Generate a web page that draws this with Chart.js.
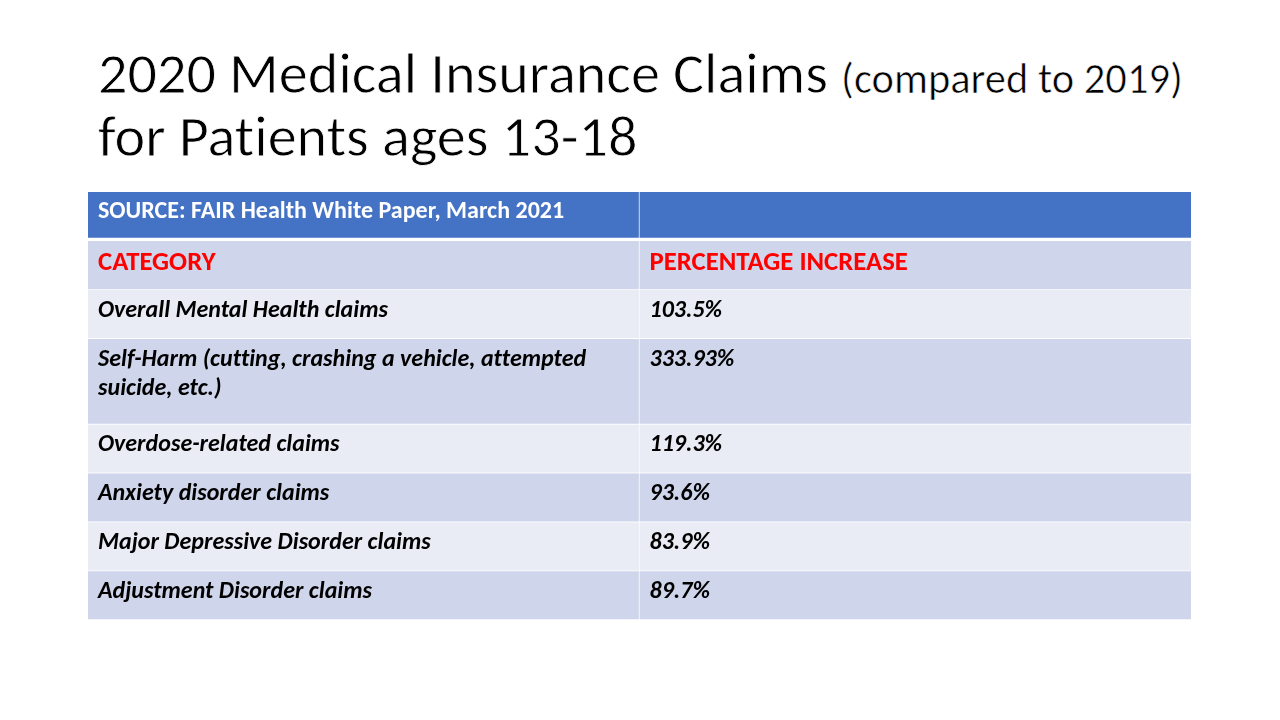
<!DOCTYPE html>
<html>
<head>
<meta charset="utf-8">
<script src="https://cdn.jsdelivr.net/npm/chart.js@4.4.1/dist/chart.umd.min.js"></script>
<style>
  html, body { margin: 0; padding: 0; background: #ffffff; }
  body { width: 1280px; height: 720px; position: relative; overflow: hidden; }
  h1 {
    position: absolute; left: 98px; top: 42px; margin: 0;
    font-family: Carlito, Calibri, Lato, sans-serif; font-weight: 400;
    font-size: 58.2px; line-height: 63px; color: #000000;
    font-variant-ligatures: none; white-space: nowrap;
  }
  h1 .main { -webkit-text-stroke: 0.8px #ffffff; }
  h1 .aside { font-size: 42.5px; line-height: 0; -webkit-text-stroke: 0.6px #ffffff; }
  #wrap { position: absolute; left: 0; top: 0; width: 1280px; height: 720px; }
</style>
</head>
<body>
<h1><span class="main">2020 Medical Insurance Claims</span> <span class="aside">(compared to 2019)</span><br><span class="main">for Patients ages 13-18</span></h1>
<div id="wrap"><canvas id="claimsTable"></canvas></div>
<script>
const sourceNote = 'SOURCE: FAIR Health White Paper, March 2021';
const columnHeaders = ['CATEGORY', 'PERCENTAGE INCREASE'];
const categories = [
    'Overall Mental Health claims',
    ['Self-Harm (cutting, crashing a vehicle, attempted', 'suicide, etc.)'],
    'Overdose-related claims',
    'Anxiety disorder claims',
    'Major Depressive Disorder claims',
    'Adjustment Disorder claims'
];
const increases = [103.5, 333.93, 119.3, 93.6, 83.9, 89.7];

document.addEventListener('DOMContentLoaded', function () {
    const fontFamily = 'Carlito, Calibri, Lato, sans-serif';
    const headerBlue = '#4472c4';
    const bandDark = '#cfd5ea';
    const bandLight = '#e9ebf5';

    // rows of the table: [left cell, right cell, kind]
    const rows = [[sourceNote, '', 'source'], [columnHeaders[0], columnHeaders[1], 'head']];
    categories.forEach((c, i) => rows.push([c, increases[i] + '%', 'body']));

    // row extents in "row units" (a wrapped label makes the row taller)
    let edge = 0;
    const extents = rows.map(r => {
        const lines = Array.isArray(r[0]) ? r[0].length : 1;
        const start = edge;
        edge += 1 + 0.75 * (lines - 1);
        return [start, edge];
    });
    const total = edge;

    const datasets = rows.map((r, i) => ({
        label: 'row' + i,
        data: [
            { x: 'left', y: extents[i] },
            { x: 'right', y: extents[i] }
        ],
        backgroundColor: i === 0 ? headerBlue : (i % 2 === 1 ? bandDark : bandLight),
        borderColor: '#ffffff',
        borderWidth: [
            { top: 0, left: 0, right: 1, bottom: i === 0 ? 3.5 : 1 },
            { top: 0, left: 0, right: 0, bottom: i === 0 ? 3.5 : 1 }
        ],
        borderSkipped: false,
        grouped: false,
        barPercentage: 1,
        categoryPercentage: 1
    }));

    // text per row kind: font, colour, baseline offset from the row top
    const styles = {
        source: { font: 'bold 24px ' + fontFamily, color: '#ffffff', dy: 26 },
        head: { font: 'bold 26.7px ' + fontFamily, color: '#ff0000', dy: 29 },
        body: { font: 'italic bold 24px ' + fontFamily, color: '#000000', dy: 27 }
    };

    const cellText = {
        id: 'cellText',
        afterDatasetsDraw(chart) {
            const ctx = chart.ctx;
            ctx.save();
            ctx.textBaseline = 'alphabetic';
            if ('letterSpacing' in ctx) ctx.letterSpacing = '0.01px';
            rows.forEach((r, i) => {
                const st = styles[r[2]];
                const meta = chart.getDatasetMeta(i);
                meta.data.forEach((bar, c) => {
                    const text = r[c];
                    if (!text) return;
                    const p = bar.getProps(['x', 'y', 'base', 'width'], true);
                    const left = p.x - p.width / 2 + 10;
                    const top = Math.min(p.y, p.base);
                    ctx.font = st.font;
                    ctx.fillStyle = st.color;
                    const lines = Array.isArray(text) ? text : [text];
                    lines.forEach((ln, k) => ctx.fillText(ln, left, top + st.dy + k * 29));
                });
            });
            ctx.restore();
        }
    };

    new Chart(document.getElementById('claimsTable'), {
        type: 'bar',
        data: { labels: ['left', 'right'], datasets: datasets },
        options: {
            responsive: true,
            maintainAspectRatio: false,
            animation: false,
            layout: { padding: { left: 88, right: 89, top: 192, bottom: 100 } },
            plugins: { legend: { display: false }, tooltip: { enabled: false } },
            scales: {
                x: { display: false },
                y: { display: false, min: 0, max: total, reverse: true }
            }
        },
        plugins: [cellText]
    });
});
</script>
</body>
</html>
